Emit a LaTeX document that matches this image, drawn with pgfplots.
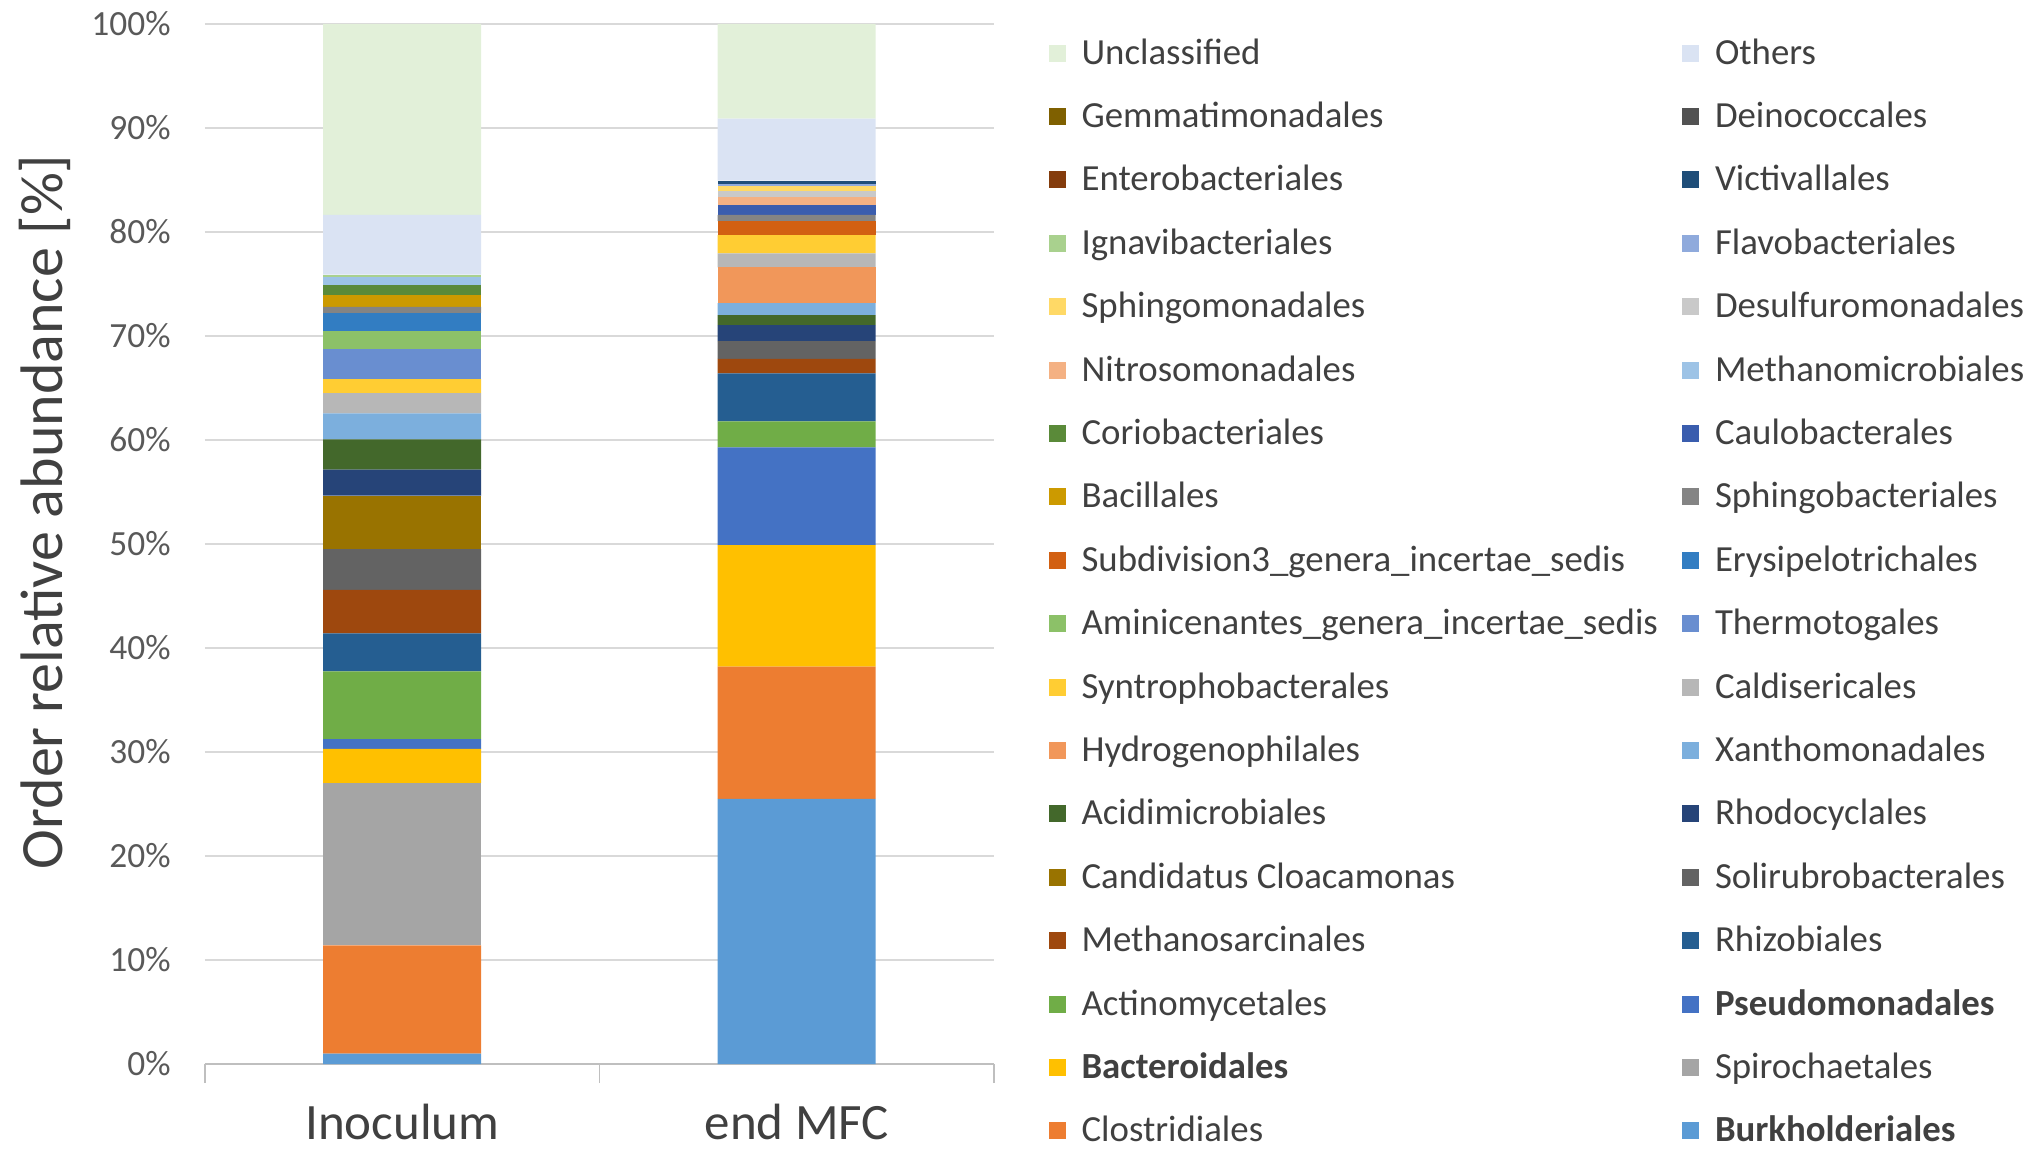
\documentclass[border=0pt]{standalone}
\usepackage{pgfplots}
\pgfplotsset{compat=1.18}
\usepackage{fontspec}
\setmainfont{Carlito}

% Office-style series colours
\definecolor{c1}{HTML}{5B9BD5}
\definecolor{c2}{HTML}{ED7D31}
\definecolor{c3}{HTML}{A5A5A5}
\definecolor{c4}{HTML}{FFC000}
\definecolor{c5}{HTML}{4472C4}
\definecolor{c6}{HTML}{70AD47}
\definecolor{c7}{HTML}{255E91}
\definecolor{c8}{HTML}{9E480E}
\definecolor{c9}{HTML}{636363}
\definecolor{c10}{HTML}{997300}
\definecolor{c11}{HTML}{264478}
\definecolor{c12}{HTML}{43682B}
\definecolor{c13}{HTML}{7CAFDD}
\definecolor{c14}{HTML}{F1975A}
\definecolor{c15}{HTML}{B7B7B7}
\definecolor{c16}{HTML}{FFCD33}
\definecolor{c17}{HTML}{698ED0}
\definecolor{c18}{HTML}{8CC168}
\definecolor{c19}{HTML}{327DC2}
\definecolor{c20}{HTML}{D26012}
\definecolor{c21}{HTML}{848484}
\definecolor{c22}{HTML}{CC9A00}
\definecolor{c23}{HTML}{3A5DAE}
\definecolor{c24}{HTML}{5A8A39}
\definecolor{c25}{HTML}{9DC3E6}
\definecolor{c26}{HTML}{F4B183}
\definecolor{c27}{HTML}{C9C9C9}
\definecolor{c28}{HTML}{FFD966}
\definecolor{c29}{HTML}{8FAADC}
\definecolor{c30}{HTML}{A9D18E}
\definecolor{c31}{HTML}{1F4E79}
\definecolor{c32}{HTML}{843C0C}
\definecolor{c33}{HTML}{525252}
\definecolor{c34}{HTML}{7F6000}
\definecolor{c35}{HTML}{DAE3F3}
\definecolor{c36}{HTML}{E2F0D9}
\definecolor{txt}{HTML}{404040}
\definecolor{ticktxt}{HTML}{595959}
\definecolor{gridc}{HTML}{D9D9D9}
\definecolor{axisc}{HTML}{BFBFBF}

% left legend column gets a fixed width
\newcommand{\lcol}[1]{\makebox[292.6pt][l]{#1}}

\begin{document}
\begin{tikzpicture}
\useasboundingbox (-102.5pt,-44pt) rectangle (913pt,532pt);
\begin{axis}[
  at={(0,0)}, anchor=south west,
  scale only axis,
  width=394.5pt, height=520pt,
  ybar stacked,
  bar width=79pt,
  legend image code/.code={\fill[#1,draw=none] (0pt,-4.25pt) rectangle (8.5pt,4.25pt);},
  every axis plot/.append style={draw=none},
  xmin=-0.5, xmax=1.5,
  ymin=0, ymax=100,
  axis x line*=bottom,
  axis y line*=left,
  x axis line style={draw=axisc, line width=0.9pt},
  y axis line style={draw=none},
  xtick={0,1},
  xticklabels={Inoculum, end MFC},
  major tick length=0pt,
  tick align=outside,
  extra x ticks={-0.5,0.5,1.5},
  extra x tick labels={},
  extra x tick style={major tick length=9.5pt, tick style={draw=axisc, line width=0.9pt}, grid=none},
  xticklabel style={font=\fontsize{25.5}{30}\selectfont, text=txt, anchor=base, inner sep=0pt, yshift=-37.5pt},
  ytick={0,10,...,100},
  yticklabels={0\%,10\%,20\%,30\%,40\%,50\%,60\%,70\%,80\%,90\%,100\%},
  yticklabel style={font=\fontsize{17.7}{21}\selectfont, text=ticktxt, anchor=east, inner sep=0pt, xshift=-17pt},
  ymajorgrids,
  major grid style={draw=gridc, line width=0.8pt},
  ylabel={Order relative abundance [\%]},
  every axis y label/.style={at={(rel axis cs:0,0.5)}, xshift=-80pt, yshift=16pt, rotate=90, anchor=center,
    font=\fontsize{30}{36}\selectfont, text=txt},
  reverse legend,
  legend columns=2,
  legend cell align=left,
  legend style={draw=none, fill=none, at={(0,1)}, anchor=north west, xshift=422pt, yshift=-6pt,
    inner sep=0pt, outer sep=0pt, row sep=14.7pt, column sep=7.8pt,
    nodes={inner sep=0pt, text height=14pt, text depth=3pt, text=txt, font=\fontsize{18.4}{22}\selectfont}},
]
\addplot[fill=c1]  coordinates {(0,1.0)  (1,25.5)}; \addlegendentry{\textbf{Burkholderiales}}
\addplot[fill=c2]  coordinates {(0,10.4) (1,12.7)}; \addlegendentry{\lcol{Clostridiales}}
\addplot[fill=c3]  coordinates {(0,15.6) (1,0)};    \addlegendentry{Spirochaetales}
\addplot[fill=c4]  coordinates {(0,3.3)  (1,11.7)}; \addlegendentry{\lcol{\textbf{Bacteroidales}}}
\addplot[fill=c5]  coordinates {(0,0.95) (1,9.4)};  \addlegendentry{\textbf{Pseudomonadales}}
\addplot[fill=c6]  coordinates {(0,6.5)  (1,2.5)};  \addlegendentry{\lcol{Actinomycetales}}
\addplot[fill=c7]  coordinates {(0,3.65) (1,4.6)};  \addlegendentry{Rhizobiales}
\addplot[fill=c8]  coordinates {(0,4.2)  (1,1.4)};  \addlegendentry{\lcol{Methanosarcinales}}
\addplot[fill=c9]  coordinates {(0,3.9)  (1,1.7)};  \addlegendentry{Solirubrobacterales}
\addplot[fill=c10] coordinates {(0,5.15) (1,0)};    \addlegendentry{\lcol{Candidatus Cloacamonas}}
\addplot[fill=c11] coordinates {(0,2.5)  (1,1.55)}; \addlegendentry{Rhodocyclales}
\addplot[fill=c12] coordinates {(0,2.9)  (1,0.95)}; \addlegendentry{\lcol{Acidimicrobiales}}
\addplot[fill=c13] coordinates {(0,2.5)  (1,1.15)}; \addlegendentry{Xanthomonadales}
\addplot[fill=c14] coordinates {(0,0)    (1,3.45)}; \addlegendentry{\lcol{Hydrogenophilales}}
\addplot[fill=c15] coordinates {(0,1.95) (1,1.35)}; \addlegendentry{Caldisericales}
\addplot[fill=c16] coordinates {(0,1.35) (1,1.75)}; \addlegendentry{\lcol{Syntrophobacterales}}
\addplot[fill=c17] coordinates {(0,2.9)  (1,0)};    \addlegendentry{Thermotogales}
\addplot[fill=c18] coordinates {(0,1.75) (1,0)};    \addlegendentry{\lcol{Aminicenantes\_genera\_incertae\_sedis}}
\addplot[fill=c19] coordinates {(0,1.7)  (1,0)};    \addlegendentry{Erysipelotrichales}
\addplot[fill=c20] coordinates {(0,0)    (1,1.35)}; \addlegendentry{\lcol{Subdivision3\_genera\_incertae\_sedis}}
\addplot[fill=c21] coordinates {(0,0.6)  (1,0.6)};  \addlegendentry{Sphingobacteriales}
\addplot[fill=c22] coordinates {(0,1.15) (1,0)};    \addlegendentry{\lcol{Bacillales}}
\addplot[fill=c23] coordinates {(0,0)    (1,0.95)}; \addlegendentry{Caulobacterales}
\addplot[fill=c24] coordinates {(0,0.95) (1,0)};    \addlegendentry{\lcol{Coriobacteriales}}
\addplot[fill=c25] coordinates {(0,0.75) (1,0)};    \addlegendentry{Methanomicrobiales}
\addplot[fill=c26] coordinates {(0,0)    (1,0.75)}; \addlegendentry{\lcol{Nitrosomonadales}}
\addplot[fill=c27] coordinates {(0,0)    (1,0.6)};  \addlegendentry{Desulfuromonadales}
\addplot[fill=c28] coordinates {(0,0)    (1,0.5)};  \addlegendentry{\lcol{Sphingomonadales}}
\addplot[fill=c29] coordinates {(0,0)    (1,0.15)}; \addlegendentry{Flavobacteriales}
\addplot[fill=c30] coordinates {(0,0.25) (1,0)};    \addlegendentry{\lcol{Ignavibacteriales}}
\addplot[fill=c31] coordinates {(0,0)    (1,0.35)}; \addlegendentry{Victivallales}
\addplot[fill=c32] coordinates {(0,0)    (1,0)};    \addlegendentry{\lcol{Enterobacteriales}}
\addplot[fill=c33] coordinates {(0,0)    (1,0)};    \addlegendentry{Deinococcales}
\addplot[fill=c34] coordinates {(0,0)    (1,0)};    \addlegendentry{\lcol{Gemmatimonadales}}
\addplot[fill=c35] coordinates {(0,5.75) (1,5.95)}; \addlegendentry{Others}
\addplot[fill=c36] coordinates {(0,18.35) (1,9.1)}; \addlegendentry{\lcol{Unclassified}}
\end{axis}
\end{tikzpicture}
\end{document}
